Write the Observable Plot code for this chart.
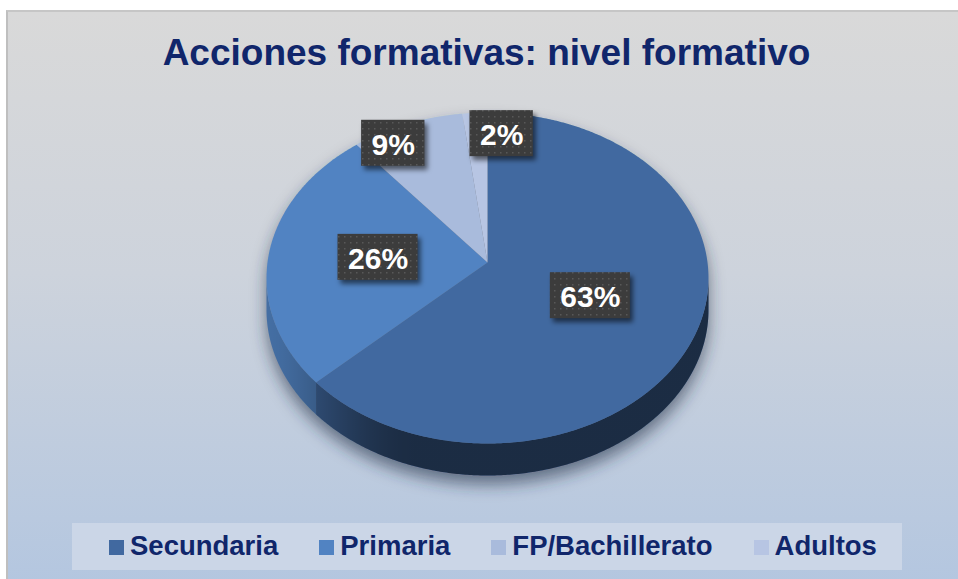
<!DOCTYPE html>
<html>
<head>
<meta charset="utf-8">
<script src="https://cdn.jsdelivr.net/npm/d3@7"></script>
<script src="https://cdn.jsdelivr.net/npm/@observablehq/plot@0.6"></script>
<style>
  html, body { margin: 0; padding: 0; background: #ffffff; }
  #page { position: relative; width: 958px; height: 579px; overflow: hidden; font-family: "Liberation Sans", Arial, sans-serif; }
  #frame { position: absolute; left: 6px; top: 10px; width: 970px; height: 580px;
           border-left: 2px solid #bfbfbf; border-top: 2px solid #c6c6c6;
           background: linear-gradient(#d9d9d9 0%, #cdd3dc 45%, #b3c6e0 100%); }
  #chart { position: absolute; left: 0; top: 0; }
  #title { position: absolute; left: 0; width: 973px; top: 34px; text-align: center;
           font-size: 37px; line-height: 37px; font-weight: bold; color: #10266b; white-space: nowrap; }
  #legendBox { position: absolute; left: 72px; top: 523px; width: 830px; height: 47px; background: #cbd6e7; }
  #legend { position: absolute; left: 109px; top: 532px; height: 28px; display: flex; align-items: center; gap: 41px; }
  .item { display: flex; align-items: center; gap: 6px; font-size: 27.5px; line-height: 28px; font-weight: bold; color: #10266b; white-space: nowrap; }
  .sw { width: 15px; height: 15px; display: inline-block; position: relative; top: 1px; }
</style>
</head>
<body>
<div id="page">
  <div id="frame"></div>
  <div id="chart"></div>
  <div id="title">Acciones formativas: nivel formativo</div>
  <div id="legendBox"></div>
  <div id="legend"></div>
</div>
<script>
// ---- data ----
const categories = ["Secundaria", "Primaria", "FP/Bachillerato", "Adultos"];
const values = [63, 26, 9, 2];
const labels = ["63%", "26%", "9%", "2%"];
const colors = ["#4169a0", "#5183c2", "#a9bbdc", "#b7c5e3"];

// ---- 3D pie geometry (layout) ----
const CX = 487, CY = 262, RX = 220, RY = 164;   // projected disc
const PERSP = 0.0938;                            // perspective factor
const DEPTH = 32 / RY;                           // wall height in y units
const LABEL_GAP = 45, LABEL_PAD = 10, LABEL_H = 46, LABEL_FONT = 30;

function proj(theta, r = 1) {                    // theta: degrees clockwise from 12 o'clock
  const a = theta * Math.PI / 180;
  const u = r * Math.sin(a), v = -r * Math.cos(a);
  const w = 1 - PERSP * v;
  return [u / w, v / w];
}
function arcPts(a0, a1) {
  const n = Math.max(2, Math.ceil(Math.abs(a1 - a0) / 0.5));
  return d3.range(n + 1).map(k => a0 + (a1 - a0) * k / n);
}

const total = d3.sum(values);
let acc = 0;
const slices = categories.map((cat, i) => {
  const a0 = acc / total * 360; acc += values[i];
  const a1 = acc / total * 360;
  return {cat, i, a0, a1, mid: (a0 + a1) / 2, share: values[i] / total, label: labels[i]};
});

const vis0 = Math.acos(-PERSP) * 180 / Math.PI; // right silhouette
const vis1 = 360 - vis0;                         // left silhouette

// top faces
const topRows = slices.flatMap(s => [
  {cat: s.cat, x: 0, y: 0},
  ...arcPts(s.a0, s.a1).map(t => { const [x, y] = proj(t); return {cat: s.cat, x, y}; })
]);

// side walls (front, visible part)
function wallPoly(a0, a1) {
  const top = arcPts(a0, a1).map(t => proj(t));
  return [...top, ...top.slice().reverse().map(([x, y]) => [x, y + DEPTH])];
}
const wallRows = slices.flatMap(s => {
  const a0 = Math.max(s.a0, vis0), a1 = Math.min(s.a1, vis1);
  if (a1 <= a0) return [];
  return wallPoly(a0, a1).map(([x, y]) => ({cat: s.cat, x, y}));
});
const shadeRows = wallPoly(vis0, vis1).map(([x, y]) => ({x, y}));

// silhouette for the drop shadow
const silhouette = [
  ...arcPts(vis1, vis0 + 360).map(t => proj(t)),
  ...arcPts(vis0, vis1).map(t => { const [x, y] = proj(t); return [x, y + DEPTH]; })
].map(([x, y]) => ({x, y}));

// labels
const ctx = document.createElement("canvas").getContext("2d");
ctx.font = `bold ${LABEL_FONT}px "Liberation Sans"`;
const labelRows = slices.map(s => {
  const r = s.share >= 0.2 ? 0.5 : 0.85;
  const [x, y] = proj(s.mid, r);
  const wPx = ctx.measureText(s.label).width + 2 * LABEL_PAD;
  return {label: s.label, px: CX + x * RX, py: CY + y * RY, wPx};
});
// simple horizontal collision resolution
for (let iter = 0; iter < 10; iter++) {
  for (let i = 0; i < labelRows.length; i++) for (let j = i + 1; j < labelRows.length; j++) {
    const A = labelRows[i], B = labelRows[j];
    if (Math.abs(A.py - B.py) >= LABEL_H) continue;
    const need = (A.wPx + B.wPx) / 2 + LABEL_GAP, d = B.px - A.px;
    if (Math.abs(d) < need) {
      const push = (need - Math.abs(d)) / 2, sgn = d >= 0 ? 1 : -1;
      A.px -= push * sgn; B.px += push * sgn;
    }
  }
}
labelRows.forEach(d => {
  d.x = (d.px - CX) / RX; d.y = (d.py - CY) / RY;
  d.hw = d.wPx / 2 / RX; d.hh = LABEL_H / 2 / RY;
});

// wall lighting (lighter towards the left)
function wallK(u) {
  const t = Math.max(0, Math.min(1, (-u - 0.3) / 0.7));
  const s = t * t * (3 - 2 * t);
  return 0.42 + 0.42 * s;
}

const plot = Plot.plot({
  width: 958, height: 579, margin: 0,
  x: {domain: [-1, 1], range: [CX - RX, CX + RX], axis: null},
  y: {domain: [-1, 1], range: [CY - RY, CY + RY], axis: null},
  color: {domain: categories, range: colors},
  style: {background: "transparent", fontFamily: "Liberation Sans, Arial, sans-serif", overflow: "visible"},
  marks: [
    Plot.line(silhouette, {x: "x", y: "y", fill: "#25324a", fillOpacity: 0.6, stroke: "none", dy: 9, ariaDescription: "pie-shadow"}),
    Plot.line(wallRows, {x: "x", y: "y", z: "cat", fill: "cat", stroke: "none"}),
    Plot.line(shadeRows, {x: "x", y: "y", fill: "url(#wallShade)", stroke: "none"}),
    Plot.line(topRows, {x: "x", y: "y", z: "cat", fill: "cat", stroke: "none"}),
    Plot.rect(labelRows, {x1: d => d.x - d.hw, x2: d => d.x + d.hw, y1: d => d.y - d.hh, y2: d => d.y + d.hh,
      fill: "#000", fillOpacity: 0.55, dx: 3, dy: 4, ariaDescription: "label-shadow"}),
    Plot.rect(labelRows, {x1: d => d.x - d.hw, x2: d => d.x + d.hw, y1: d => d.y - d.hh, y2: d => d.y + d.hh,
      fill: "url(#dots)"}),
    Plot.text(labelRows, {x: "x", y: "y", text: "label", fill: "white", fontSize: LABEL_FONT, fontWeight: "bold", dy: 2})
  ]
});

// defs: pattern, gradient, filters
const svg = d3.select(plot);
const defs = svg.insert("defs", ":first-child");
const pat = defs.append("pattern").attr("id", "dots").attr("width", 6).attr("height", 6).attr("patternUnits", "userSpaceOnUse");
pat.append("rect").attr("width", 6).attr("height", 6).attr("fill", "#3c3c3c");
pat.append("rect").attr("x", 2).attr("y", 2).attr("width", 1.5).attr("height", 1.5).attr("fill", "#585858");

const xs = shadeRows.map(d => d.x), minX = d3.min(xs), maxX = d3.max(xs);
const grad = defs.append("linearGradient").attr("id", "wallShade").attr("x1", 0).attr("x2", 1).attr("y1", 0).attr("y2", 0);
const stops = d3.range(vis0, vis1 + 0.001, 3).map(t => {
  const [x] = proj(t);
  return {o: (x - minX) / (maxX - minX), a: 1 - wallK(Math.sin(t * Math.PI / 180))};
}).sort((a, b) => a.o - b.o);
stops.forEach(s => grad.append("stop").attr("offset", Math.max(0, Math.min(1, s.o))).attr("stop-color", "#000").attr("stop-opacity", s.a));

const f1 = defs.append("filter").attr("id", "blurShadow").attr("x", "-20%").attr("y", "-20%").attr("width", "140%").attr("height", "140%");
f1.append("feGaussianBlur").attr("stdDeviation", 8);
const f2 = defs.append("filter").attr("id", "blurLabel").attr("x", "-30%").attr("y", "-30%").attr("width", "160%").attr("height", "160%");
f2.append("feGaussianBlur").attr("stdDeviation", 2.5);

let gShadow = svg.select('g[aria-description="pie-shadow"]');
let gLabelShadow = svg.select('g[aria-description="label-shadow"]');
const groups = plot.querySelectorAll(":scope > g");
if (gShadow.empty()) gShadow = d3.select(groups[0]);
if (gLabelShadow.empty()) gLabelShadow = d3.select(groups[4]);
gShadow.attr("filter", "url(#blurShadow)");
gLabelShadow.attr("filter", "url(#blurLabel)");

document.getElementById("chart").appendChild(plot);

// legend from the plot's color scale
const colorScale = plot.scale("color");
const legend = document.getElementById("legend");
categories.forEach(c => {
  const item = document.createElement("div");
  item.className = "item";
  const sw = document.createElement("span");
  sw.className = "sw";
  sw.style.background = colorScale.apply(c);
  const tx = document.createElement("span");
  tx.textContent = c;
  item.appendChild(sw); item.appendChild(tx);
  legend.appendChild(item);
});
</script>
</body>
</html>
